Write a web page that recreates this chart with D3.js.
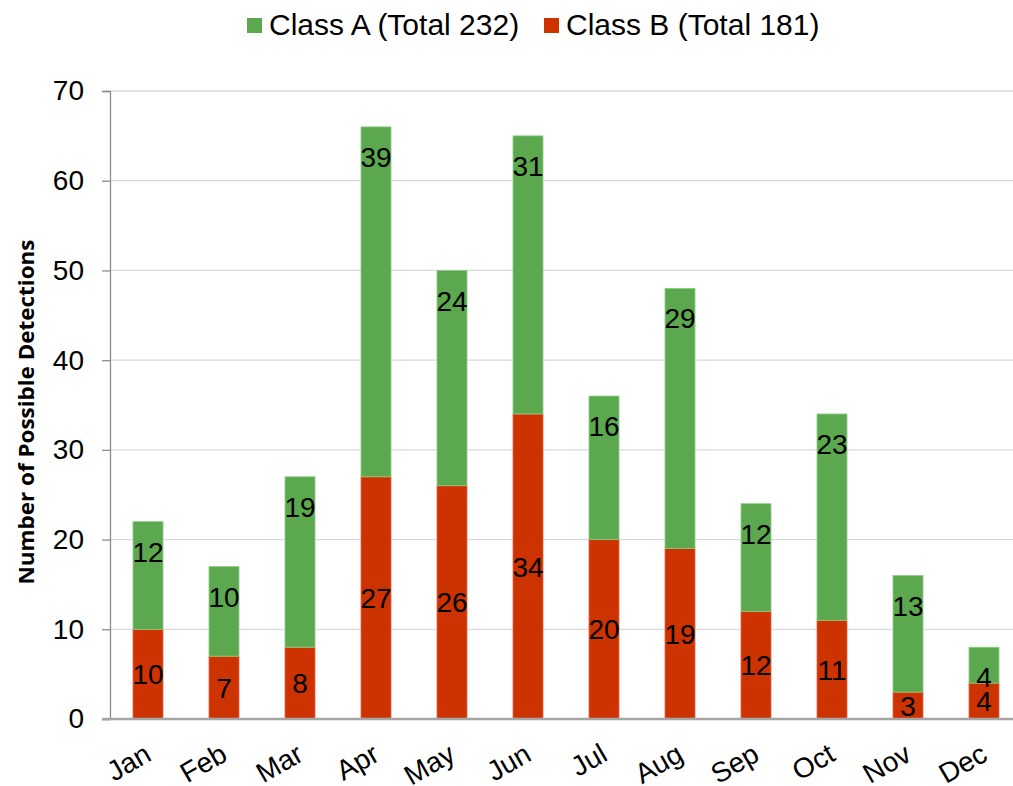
<!DOCTYPE html>
<html><head><meta charset="utf-8">
<script src="https://cdn.jsdelivr.net/npm/d3@7"></script>
<style>body{margin:0;background:#fff}</style>
</head><body>
<script>
const months = ["Jan","Feb","Mar","Apr","May","Jun","Jul","Aug","Sep","Oct","Nov","Dec"];
const classB = [10,7,8,27,26,34,20,19,12,11,3,4];
const classA = [12,10,19,39,24,31,16,29,12,23,13,4];
const yTicks = [0,10,20,30,40,50,60,70];
const legendLabels = ["Class A (Total 232)","Class B (Total 181)"];
const colors = {A:"#5ba84f", B:"#cc3300"};

const W=1013,H=786;
const FS=28;
const svg=d3.select("body").append("svg").attr("width",W).attr("height",H)
  .style("font-family","'Liberation Sans',Arial,sans-serif");
const x0=110, x1=1022, yTop=91, yBot=719;
const x=d3.scaleBand().domain(months).range([x0,x1]).paddingInner(0.605).paddingOuter(0.3025);
const y=d3.scaleLinear().domain([0,70]).range([yBot,yTop]);

// gridlines
svg.append("g").selectAll("line").data(yTicks.slice(1)).join("line")
  .attr("x1",x0).attr("x2",W).attr("y1",d=>y(d)).attr("y2",d=>y(d))
  .attr("stroke","#d9d9d9").attr("stroke-width",1.3);

// y axis
const ya=svg.append("g").attr("transform",`translate(${x0},0)`)
  .call(d3.axisLeft(y).tickValues(yTicks).tickSize(8).tickPadding(18));
ya.select(".domain").attr("stroke","#8c8c8c").attr("stroke-width",1.3);
ya.selectAll(".tick line").attr("stroke","#8c8c8c").attr("stroke-width",1.3);
ya.selectAll("text").attr("font-size",FS).attr("fill","#000").attr("font-family","'Liberation Sans',Arial,sans-serif");

// bars
const bw=x.bandwidth();
const g=svg.append("g");
months.forEach((m,i)=>{
  const b=classB[i], a=classA[i];
  g.append("rect").attr("x",x(m)).attr("width",bw).attr("y",y(b)).attr("height",y(0)-y(b))
    .attr("fill",colors.B).attr("stroke","#e8674a").attr("stroke-width",0.8);
  g.append("rect").attr("x",x(m)).attr("width",bw).attr("y",y(a+b)).attr("height",y(b)-y(a+b))
    .attr("fill",colors.A).attr("stroke","#8fcf85").attr("stroke-width",0.8);
  g.append("text").attr("x",x(m)+bw/2).attr("y",y(b/2)).attr("dy","0.36em")
    .attr("text-anchor","middle").attr("font-size",FS).text(b);
  g.append("text").attr("x",x(m)+bw/2).attr("y",y(a+b)+30).attr("dy","0.36em")
    .attr("text-anchor","middle").attr("font-size",FS).text(a);
});

// x axis line
svg.append("line").attr("x1",x0-8).attr("x2",W).attr("y1",yBot).attr("y2",yBot)
  .attr("stroke","#a6a6a6").attr("stroke-width",2.5);

// x labels
svg.append("g").selectAll("text").data(months).join("text")
  .attr("transform",d=>`translate(${x(d)+bw/2-5},${yBot+23}) rotate(-30)`)
  .attr("text-anchor","end").attr("dy","0.72em").attr("font-size",FS).text(d=>d);

// y title
svg.append("text").attr("transform",`translate(34,412) rotate(-90)`)
  .attr("text-anchor","middle").attr("font-family","'Open Sans',sans-serif")
  .attr("font-weight","bold").attr("font-size",21).attr("textLength",345).attr("lengthAdjust","spacingAndGlyphs")
  .text("Number of Possible Detections");

// legend
const leg=[{c:colors.A,t:legendLabels[0],x:247},{c:colors.B,t:legendLabels[1],x:544}];
leg.forEach(l=>{
  svg.append("rect").attr("x",l.x).attr("y",18).attr("width",15).attr("height",15).attr("fill",l.c);
  svg.append("text").attr("x",l.x+22).attr("y",24).attr("dy","0.36em").attr("font-size",30).text(l.t);
});
</script>
</body></html>
